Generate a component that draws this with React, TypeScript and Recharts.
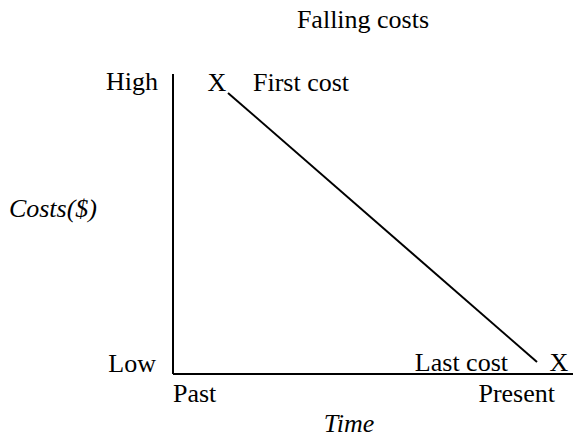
import { ComposedChart, Line, Scatter, XAxis, YAxis } from "recharts";

const title = "Falling costs";
const xAxisTitle = "Time";
const yAxisTitle = "Costs($)";

const xTicks = [0, 100];
const xTickLabels = ["Past", "Present"];
const yTicks = [0, 100];
const yTickLabels = ["Low", "High"];

// the falling-cost line, time on x (0 = past, 100 = present), cost on y
const costLine = [
  { t: 13.75, cost: 93.7 },
  { t: 91, cost: 4 },
];

// the two "X" marks with their names
const markerTimes = [11, 96.5];
const markerCosts = [97, 3.7];
const markerNames = ["First cost", "Last cost"];

const markers = markerTimes.map((t, i) => ({
  t,
  cost: markerCosts[i],
  name: markerNames[i],
}));

const FONT = "'Liberation Serif', 'Times New Roman', serif";
const FONT_SIZE = 26;

function XTick({ x, y, payload, index }: any) {
  const first = index === 0;
  return (
    <text
      x={first ? x : x - 6}
      y={y + 28}
      textAnchor={first ? "start" : "end"}
      fontFamily={FONT}
      fontSize={FONT_SIZE}
      fill="#000"
    >
      {xTickLabels[xTicks.indexOf(payload.value)]}
    </text>
  );
}

function YTick({ x, y, payload }: any) {
  const top = payload.value === yTicks[1];
  return (
    <text
      x={x - (top ? 15 : 17)}
      y={top ? y + 16 : y - 2}
      textAnchor="end"
      fontFamily={FONT}
      fontSize={FONT_SIZE}
      fill="#000"
    >
      {yTickLabels[yTicks.indexOf(payload.value)]}
    </text>
  );
}

function MarkerShape({ cx, cy, payload }: any) {
  const first = payload.name === markerNames[0];
  return (
    <g>
      <text
        x={cx}
        y={cy + 8}
        textAnchor="middle"
        fontFamily={FONT}
        fontSize={FONT_SIZE}
        fill="#000"
      >
        X
      </text>
      <text
        x={first ? cx + 36 : cx - 51}
        y={cy + 8}
        textAnchor={first ? "start" : "end"}
        fontFamily={FONT}
        fontSize={FONT_SIZE}
        fill="#000"
      >
        {payload.name}
      </text>
    </g>
  );
}

function XTitle({ viewBox }: any) {
  const { x, y } = viewBox;
  return (
    <text
      x={x + 176}
      y={y + 58}
      textAnchor="middle"
      fontFamily={FONT}
      fontSize={FONT_SIZE}
      fontStyle="italic"
      fill="#000"
    >
      {xAxisTitle}
    </text>
  );
}

function YTitle({ viewBox }: any) {
  const { x, y } = viewBox;
  return (
    <text
      x={x - 16}
      y={y + 143}
      textAnchor="end"
      fontFamily={FONT}
      fontSize={FONT_SIZE}
      fontStyle="italic"
      fill="#000"
    >
      {yAxisTitle}
    </text>
  );
}

export default function App() {
  return (
    <div
      style={{
        position: "absolute",
        left: 0,
        top: 0,
        width: 573,
        height: 440,
        background: "#fff",
      }}
    >
      <div
        style={{
          position: "absolute",
          left: 0,
          width: 573,
          top: 5,
          paddingLeft: 153,
          boxSizing: "border-box",
          textAlign: "center",
          fontFamily: FONT,
          fontSize: FONT_SIZE,
          lineHeight: "30px",
          color: "#000",
        }}
      >
        {title}
      </div>
      <ComposedChart
        width={573}
        height={440}
        margin={{ top: 74, right: 0, bottom: 36, left: 113 }}
      >
        <XAxis
          type="number"
          dataKey="t"
          domain={[0, 100]}
          ticks={xTicks}
          height={30}
          tickSize={0}
          tickMargin={0}
          tick={<XTick />}
          axisLine={{ stroke: "#000", strokeWidth: 2 }}
          tickLine={false}
          allowDataOverflow
          label={<XTitle />}
        />
        <YAxis
          type="number"
          dataKey="cost"
          domain={[0, 100]}
          ticks={yTicks}
          width={60}
          tickSize={0}
          tickMargin={0}
          tick={<YTick />}
          axisLine={{ stroke: "#000", strokeWidth: 2 }}
          tickLine={false}
          allowDataOverflow
          label={<YTitle />}
        />
        <Line
          data={costLine}
          dataKey="cost"
          stroke="#000"
          strokeWidth={2}
          dot={false}
          isAnimationActive={false}
        />
        <Scatter
          data={markers}
          dataKey="cost"
          shape={<MarkerShape />}
          isAnimationActive={false}
        />
      </ComposedChart>
    </div>
  );
}
